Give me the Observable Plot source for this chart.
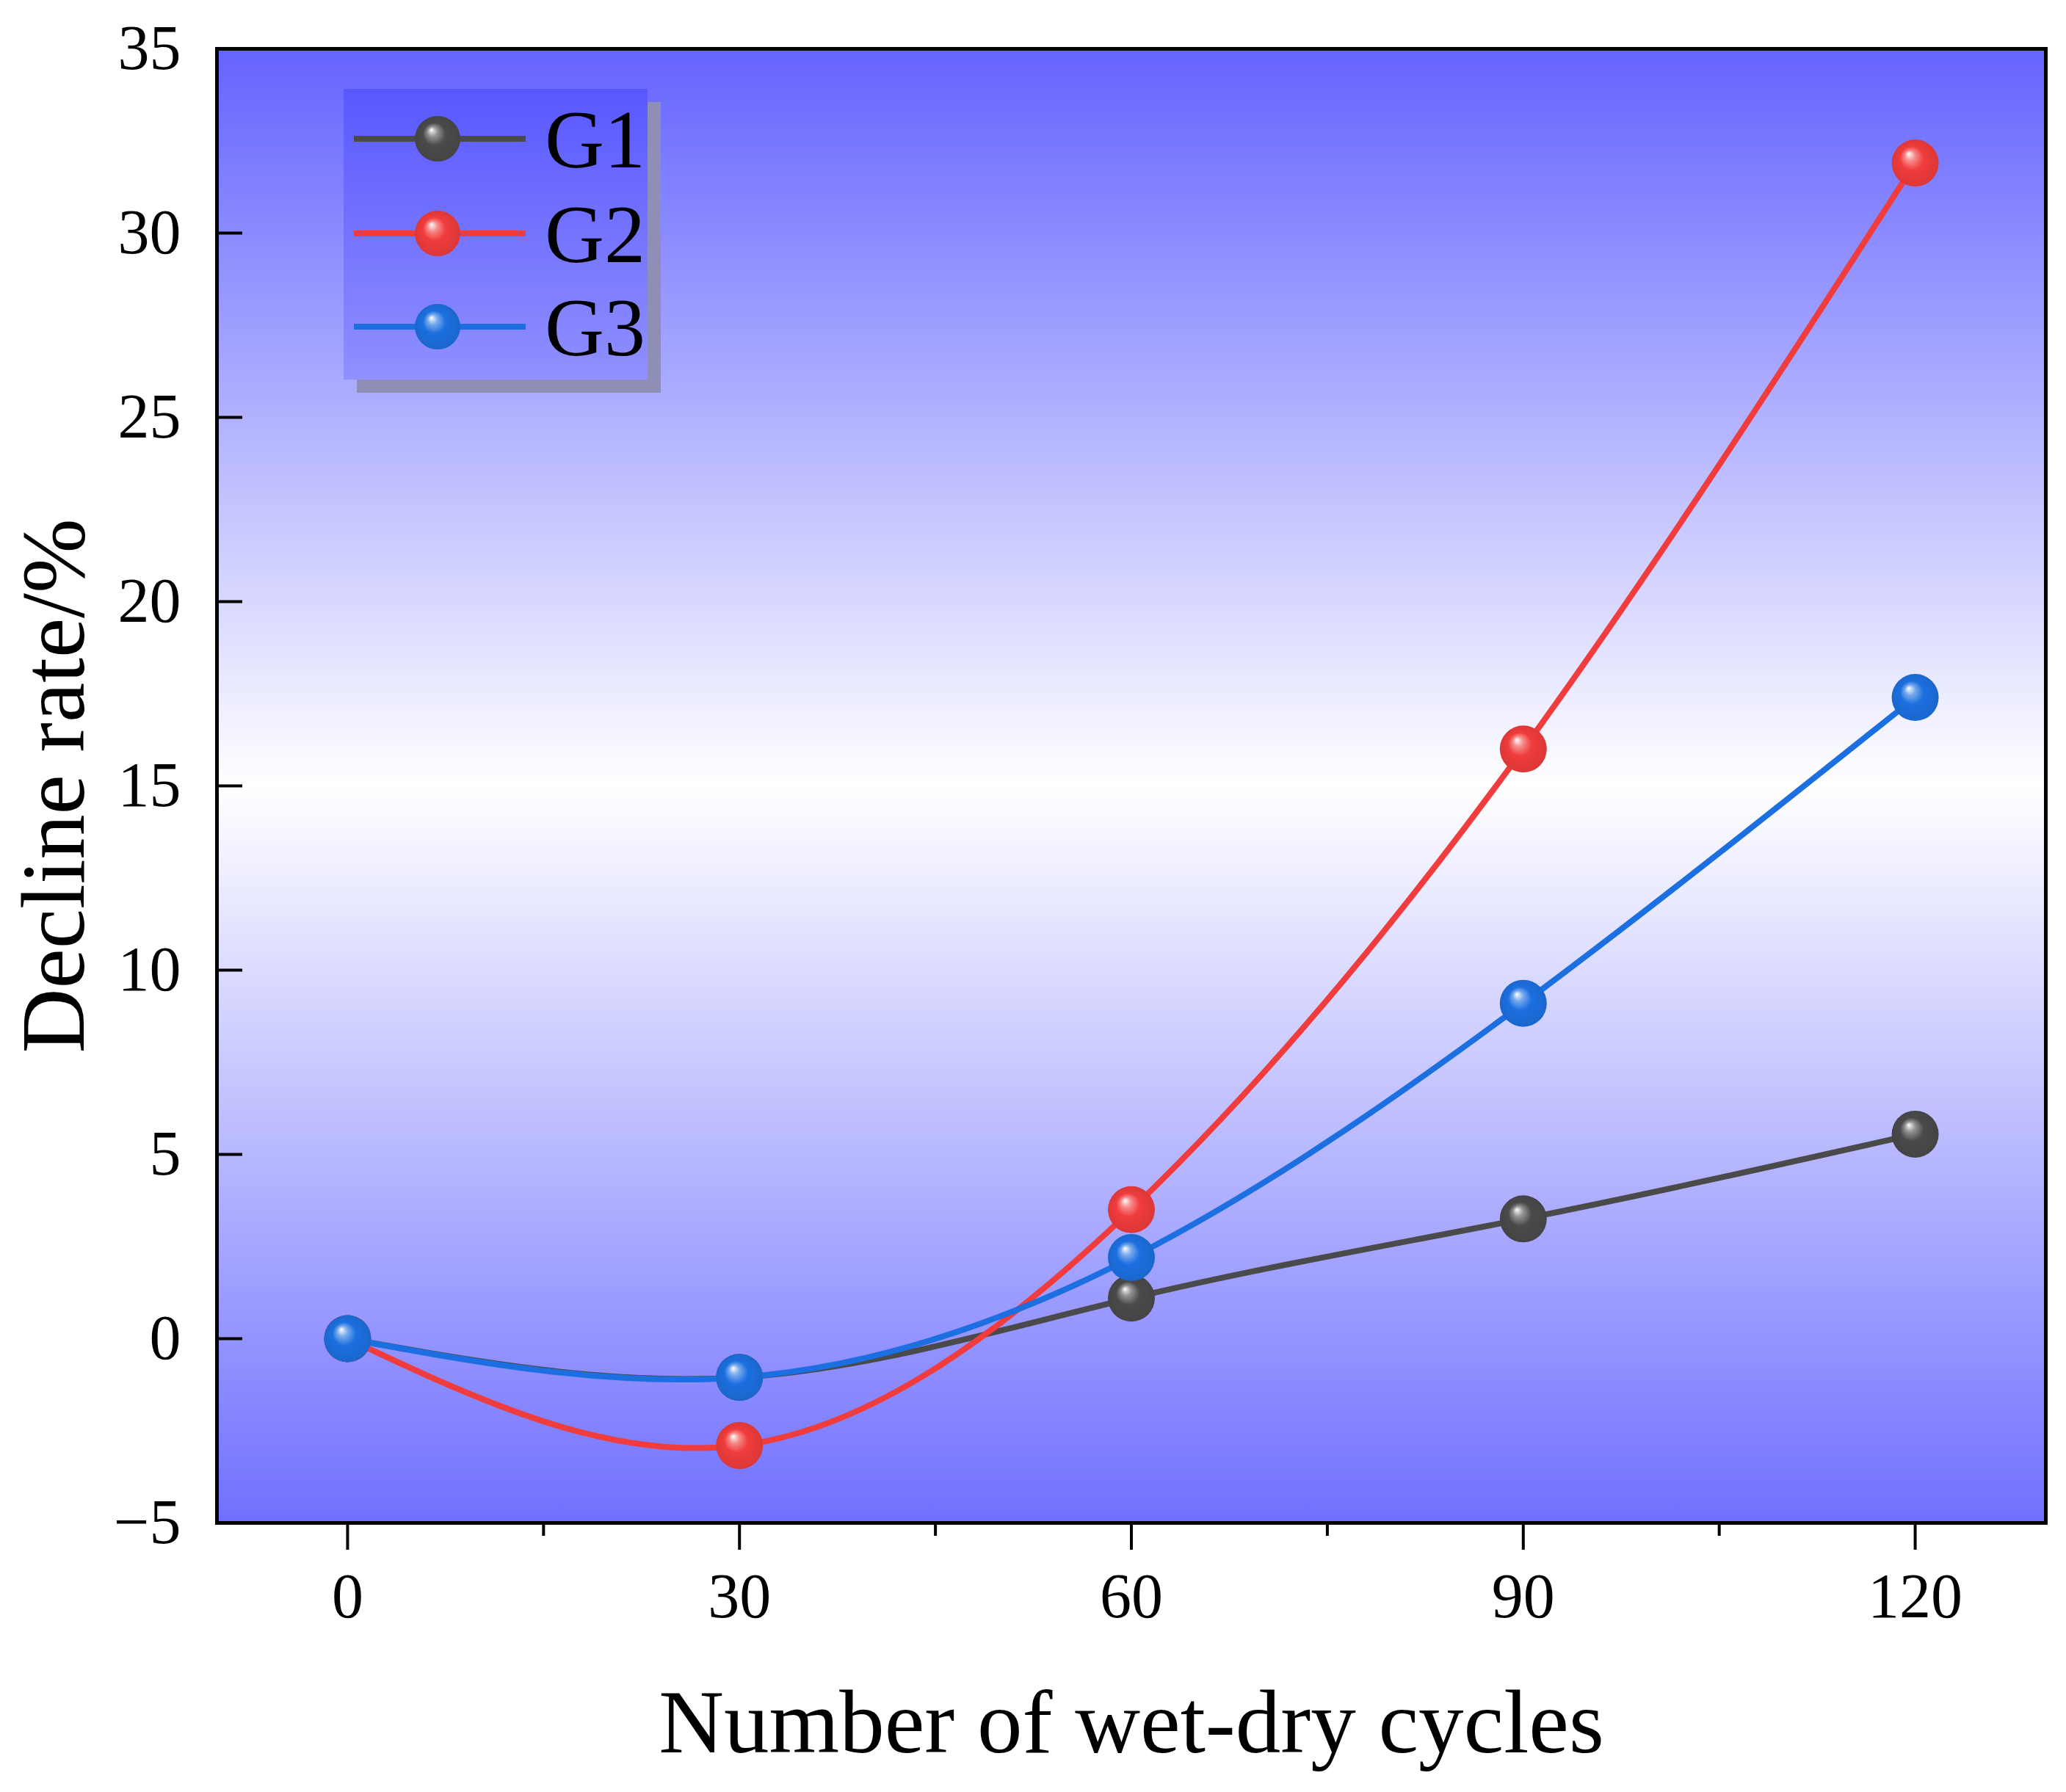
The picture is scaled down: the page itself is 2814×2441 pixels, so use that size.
<!DOCTYPE html>
<html><head><meta charset="utf-8">
<script src="https://cdn.jsdelivr.net/npm/d3@7"></script>
<script src="https://cdn.jsdelivr.net/npm/@observablehq/plot@0.6"></script>
<style>
body{margin:0;background:#fff}
#chart svg{display:block}
g[aria-label="x-axis label"] text{font-size:123px}
g[aria-label="y-axis label"] text{font-size:122px}
</style></head><body><div id="chart"></div>
<script>
// ---- data ----
const cycles = [0, 30, 60, 90, 120];
const seriesNames = ["G1", "G2", "G3"];
const g1 = [0, -1.05, 1.1, 3.25, 5.55];
const g2 = [0, -2.9, 3.5, 16.0, 31.9];
const g3 = [0, -1.05, 2.2, 9.1, 17.4];
const xMajorTicks = [0, 30, 60, 90, 120];
const xMinorTicks = [15, 45, 75, 105];
const yTicks = [-5, 0, 5, 10, 15, 20, 25, 30, 35];
const lineColors = ["#4a4a4a", "#f03c3c", "#1c6fe0"];
const ballIds = ["ballG1", "ballG2", "ballG3"];

const values = [g1, g2, g3];
const rows = seriesNames.map((s, k) => cycles.map((c, i) => ({series: s, cycles: c, rate: values[k][i]})));

const W = 2814, H = 2441;
const mL = 295, mR = 28, mT = 66, mB = 367;
const plotW = W - mL - mR, plotH = H - mT - mB;
const fmt = d => d < 0 ? `\u2212${-d}` : `${d}`;

const marks = [
  Plot.frame({fill: "url(#bgGrad)"}),
  Plot.axisX(xMajorTicks, {tickSize: 0, tickPadding: 67, tickFormat: fmt,
    label: "Number of wet-dry cycles", labelAnchor: "center", labelArrow: "none", labelOffset: 312}),
  Plot.axisY(yTicks, {tickSize: 0, tickPadding: 49, tickFormat: fmt,
    label: "Decline rate/%", labelAnchor: "center", labelArrow: "none", labelOffset: 268})
];
rows.forEach((r, k) => {
  marks.push(Plot.line(r, {x: "cycles", y: "rate", stroke: lineColors[k], strokeWidth: 8, curve: "natural"}));
  marks.push(Plot.dot(r, {x: "cycles", y: "rate", r: 32, fill: `url(#${ballIds[k]})`, stroke: "none"}));
});
// outward x ticks (major / minor), inward y ticks
marks.push(
  Plot.tickX(xMajorTicks, {x: d => d, stroke: "#000", strokeWidth: 4, insetTop: plotH, insetBottom: -37}),
  Plot.tickX(xMinorTicks, {x: d => d, stroke: "#000", strokeWidth: 4, insetTop: plotH, insetBottom: -18}),
  Plot.tickY(yTicks, {y: d => d, stroke: "#000", strokeWidth: 4, insetRight: plotW - 35}),
  Plot.frame({stroke: "#000", strokeWidth: 5})
);

const svg = Plot.plot({
  width: W, height: H,
  marginLeft: mL, marginRight: mR, marginTop: mT, marginBottom: mB,
  x: {domain: [-10, 130]},
  y: {domain: [-5, 35]},
  style: {fontFamily: "'Liberation Serif', 'Times New Roman', serif", fontSize: "86px", color: "#000", background: "#fff"},
  marks
});

// gradients
const sel = d3.select(svg);
const defs = sel.insert("defs", ":first-child");
const bg = defs.append("linearGradient").attr("id", "bgGrad").attr("x1", 0).attr("y1", 0).attr("x2", 0).attr("y2", 1);
[[0, "#6464ff"], [0.5, "#ffffff"], [1, "#7070ff"]].forEach(([o, c]) => bg.append("stop").attr("offset", o).attr("stop-color", c));
const lg = defs.append("linearGradient").attr("id", "legGrad").attr("x1", 0).attr("y1", 0).attr("x2", 0).attr("y2", 1);
[[0, "#5858ff"], [1, "#9090ff"]].forEach(([o, c]) => lg.append("stop").attr("offset", o).attr("stop-color", c));
const ballBase = ["#4a4a4a", "#f03c3c", "#1c6fe0"];
ballIds.forEach((id, k) => {
  const rg = defs.append("radialGradient").attr("id", id).attr("cx", 0.5).attr("cy", 0.5).attr("r", 0.5).attr("fx", 0.36).attr("fy", 0.3);
  rg.append("stop").attr("offset", 0).attr("stop-color", "#ffffff");
  rg.append("stop").attr("offset", 0.22).attr("stop-color", d3.interpolateRgb("#ffffff", ballBase[k])(0.6));
  rg.append("stop").attr("offset", 0.5).attr("stop-color", ballBase[k]);
  rg.append("stop").attr("offset", 1).attr("stop-color", d3.color(ballBase[k]).darker(0.25));
});

// legend
const leg = sel.append("g").attr("class", "legend").attr("text-anchor", "start");
leg.append("rect").attr("x", 486).attr("y", 139).attr("width", 414).attr("height", 396).attr("fill", "#8e8eb6");
leg.append("rect").attr("x", 468).attr("y", 121).attr("width", 414).attr("height", 396).attr("fill", "url(#legGrad)");
const rowY = [189, 318, 445];
seriesNames.forEach((s, k) => {
  leg.append("line").attr("x1", 482).attr("x2", 716).attr("y1", rowY[k]).attr("y2", rowY[k])
    .attr("stroke", lineColors[k]).attr("stroke-width", 8);
  leg.append("circle").attr("cx", 596).attr("cy", rowY[k]).attr("r", 31).attr("fill", `url(#${ballIds[k]})`);
  leg.append("text").attr("x", 742).attr("y", rowY[k]).attr("dy", "0.35em").attr("text-anchor", "start")
    .attr("font-size", 112).attr("fill", "#000").text(s);
});

document.getElementById("chart").appendChild(svg);
</script></body></html>
